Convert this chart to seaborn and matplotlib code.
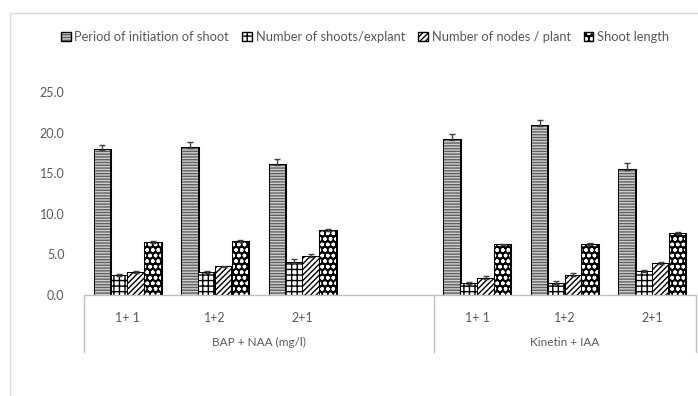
import numpy as np
import pandas as pd
import matplotlib
matplotlib.use("Agg")
import matplotlib.pyplot as plt
import matplotlib.patheffects as pe
from matplotlib.patches import Patch, Rectangle
import seaborn as sns

# ==========================================
# DATA
# ==========================================

slot_keys = ["b11", "b12", "b21", "gap", "k11", "k12", "k21"]
slot_labels = ["1+ 1", "1+2", "2+1", "", "1+ 1", "1+2", "2+1"]
data_slots = ["b11", "b12", "b21", "k11", "k12", "k21"]

groups = ["BAP + NAA (mg/l)", "Kinetin + IAA"]

series = [
    "Period of initiation of shoot",
    "Number of shoots/explant",
    "Number of nodes / plant",
    "Shoot length",
]

period = [17.8, 18.1, 16.0, 19.1, 20.8, 15.4]
shoots = [2.3, 2.7, 4.0, 1.4, 1.4, 2.8]
nodes = [2.7, 3.4, 4.7, 2.0, 2.4, 3.8]
length = [6.4, 6.5, 7.9, 6.1, 6.1, 7.5]

period_err = [0.7, 0.8, 0.8, 0.7, 0.7, 0.8]
shoots_err = [0.3, 0.3, 0.4, 0.2, 0.3, 0.3]
nodes_err = [0.3, 0.2, 0.3, 0.3, 0.3, 0.3]
length_err = [0.2, 0.3, 0.2, 0.2, 0.3, 0.2]

values = [period, shoots, nodes, length]
errors = [period_err, shoots_err, nodes_err, length_err]

rows = []
for name, vals, errs in zip(series, values, errors):
    for key, v, e in zip(data_slots, vals, errs):
        rows.append({"slot": key, "series": name, "value": v, "err": e})
    rows.append({"slot": "gap", "series": name, "value": np.nan, "err": np.nan})
df = pd.DataFrame(rows)

# ==========================================
# STYLES
# ==========================================

face_cols = ["#d0d0d0", "white", "white", "black"]
hatch_cols = ["#606060", "black", "black", "white"]
hatches = ["------", "+++", "//////", "ooo"]
text_col = "#595959"
axis_col = "#bfbfbf"

sns.set_style("white")
plt.rcParams["font.family"] = ["Lato", "DejaVu Sans"]
plt.rcParams["hatch.linewidth"] = 1.0

fig = plt.figure(figsize=(6.98, 3.96), dpi=100)
ax = fig.add_axes([84 / 698, 1 - 295 / 396, 612 / 698, 203 / 396])

sns.barplot(
    data=df,
    x="slot",
    y="value",
    hue="series",
    order=slot_keys,
    hue_order=series,
    palette=face_cols,
    errorbar=None,
    width=0.77,
    gap=0.08,
    legend=False,
    ax=ax,
)

outline = [pe.Stroke(linewidth=2.2, foreground="black"), pe.Normal()]

bar_conts = list(ax.containers)
for i, cont in enumerate(bar_conts):
    for patch in cont.patches:
        h = patch.get_height()
        if np.isnan(h):
            continue
        patch.set_facecolor(face_cols[i])
        patch.set_edgecolor(hatch_cols[i])
        patch.set_hatch(hatches[i])
        patch.set_linewidth(0)
        patch.set_path_effects(outline)
        xc = patch.get_x() + patch.get_width() / 2
        slot = slot_keys[int(round(xc))]
        e = errors[i][data_slots.index(slot)]
        ax.errorbar(
            xc, h, yerr=[[0], [e]],
            fmt="none", ecolor="#404040", elinewidth=1.0,
            capsize=2.5, capthick=1.0, zorder=5,
        )

# ==========================================
# AXES
# ==========================================

ax.set_ylim(0, 25)
ax.set_xlim(-0.5, 6.5)
ax.set_yticks(np.arange(0, 26, 5))
ax.set_yticklabels([f"{v:.1f}" for v in np.arange(0, 26, 5)])
ax.set_xticks(range(len(slot_keys)))
ax.set_xticklabels(slot_labels)
ax.tick_params(axis="both", length=0, labelsize=9, colors=text_col)
ax.tick_params(axis="x", pad=12)
ax.tick_params(axis="y", pad=14)
ax.set_xlabel("")
ax.set_ylabel("")

for s in ["top", "right", "left"]:
    ax.spines[s].set_visible(False)
ax.spines["bottom"].set_color(axis_col)
ax.spines["bottom"].set_linewidth(1.0)

trans = ax.get_xaxis_transform()
for xb in [-0.5, 3.5, 6.5]:
    ax.plot([xb, xb], [0, -0.28], transform=trans, color=axis_col,
            lw=1.0, clip_on=False)

ax.text(1.5, -0.235, groups[0], transform=trans, ha="center", va="center",
        fontsize=8.5, color=text_col)
ax.text(5.0, -0.235, groups[1], transform=trans, ha="center", va="center",
        fontsize=8.5, color=text_col)

# ==========================================
# LEGEND
# ==========================================

handles = [
    Patch(facecolor=face_cols[i], edgecolor="black", hatch=hatches[i],
          linewidth=1.0)
    for i in range(len(series))
]
for h, hc in zip(handles, hatch_cols):
    h._hatch_color = matplotlib.colors.to_rgba(hc)

fig.legend(
    handles, series,
    loc="center", bbox_to_anchor=(0.523, 1 - 37 / 396),
    ncol=4, frameon=False, fontsize=9.3,
    handlelength=0.75, handleheight=0.75, handletextpad=0.3,
    columnspacing=1.0, labelcolor=text_col,
)

# chart frame
fig.patches.append(Rectangle((10 / 698, -0.1), 1.2, 1.1 - 13 / 396,
                             transform=fig.transFigure, fill=False,
                             edgecolor="#d9d9d9", linewidth=1.0))

fig.savefig("out.png", dpi=100)
